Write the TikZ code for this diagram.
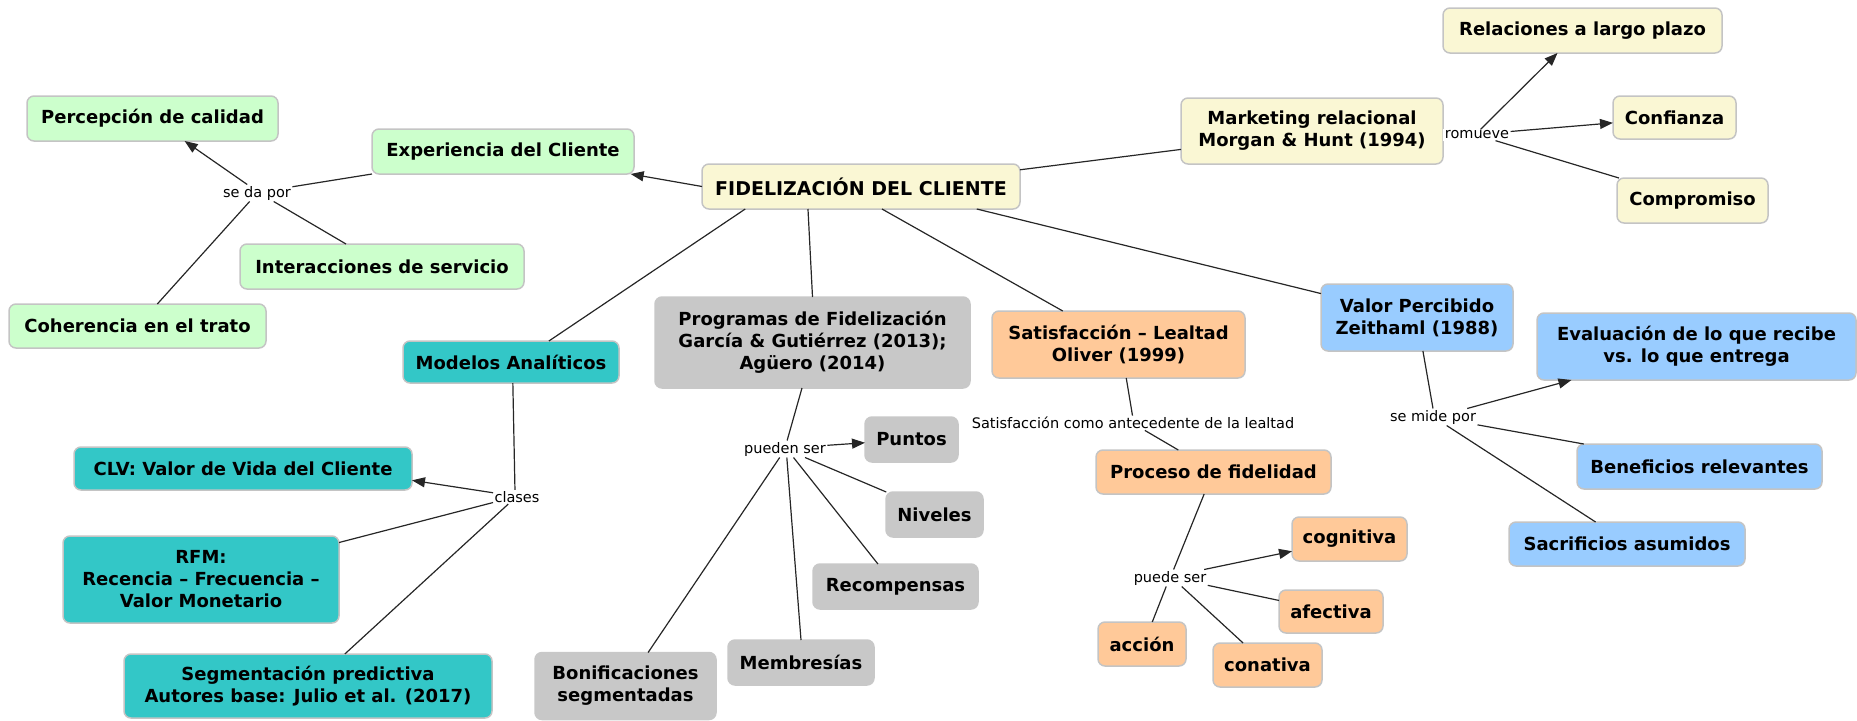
\documentclass[tikz,border=0pt]{standalone}
\usepackage{fontspec}
\setmainfont{DejaVu Sans}
\usetikzlibrary{arrows.meta}
\definecolor{cgreen}{RGB}{204,255,204}
\definecolor{cyellow}{RGB}{250,247,212}
\definecolor{cteal}{RGB}{51,199,199}
\definecolor{cgray}{RGB}{200,200,200}
\definecolor{corange}{RGB}{255,201,153}
\definecolor{cblue}{RGB}{153,204,255}
\definecolor{cborder}{RGB}{196,196,196}
\tikzset{
  box/.style={draw=cborder, line width=1.5pt, rounded corners=7pt, align=center,
    inner sep=2pt, outer sep=0pt, font=\fontsize{18}{22}\selectfont\bfseries},
  sz/.style 2 args={minimum width=#1pt, minimum height=#2pt},
  lab/.style={inner sep=1.5pt, outer sep=0pt, fill=white, font=\fontsize{14.5}{16}\selectfont},
  conn/.style={line width=1.2pt, draw=black!85},
  arr/.style={conn, -{Triangle[length=13pt,width=10pt]}},
}
\begin{document}
\begin{tikzpicture}[x=1pt,y=-1pt]
\path[use as bounding box] (0,0) rectangle (1857,720);
% nodes
\node[box, fill=cyellow, sz={318}{45}, font=\fontsize{19}{22}\selectfont\bfseries] (fid) at (861,186.5) {FIDELIZACIÓN DEL CLIENTE};
\node[box, fill=cgreen, sz={262}{45}] (exp) at (503,151.5) {Experiencia del Cliente};
\node[box, fill=cgreen, sz={251}{45}] (perc) at (152.5,118.5) {Percepción de calidad};
\node[box, fill=cgreen, sz={284}{45}] (inter) at (382,266.5) {Interacciones de servicio};
\node[box, fill=cgreen, sz={257}{44}] (coh) at (137.5,326) {Coherencia en el trato};
\node[box, fill=cyellow, sz={262}{66}] (mkt) at (1312,131) {Marketing relacional\\Morgan \& Hunt (1994)};
\node[box, fill=cyellow, sz={279}{45}] (rel) at (1582.5,30.5) {Relaciones a largo plazo};
\node[box, fill=cyellow, sz={123}{43}] (conf) at (1674.5,117.5) {Confianza};
\node[box, fill=cyellow, sz={151}{45}] (comp) at (1692.5,200.5) {Compromiso};
\node[box, fill=cteal, sz={216}{42}] (mod) at (511,362) {Modelos Analíticos};
\node[box, fill=cteal, sz={338}{43}] (clv) at (243,468.5) {CLV: Valor de Vida del Cliente};
\node[box, fill=cteal, sz={276}{87}] (rfm) at (201,579.5) {RFM:\\Recencia – Frecuencia –\\Valor Monetario};
\node[box, fill=cteal, sz={368}{64}] (seg) at (308,686) {Segmentación predictiva\\Autores base: Julio et al. (2017)};
\node[box, fill=cgray, draw=cgray, sz={315}{91}] (prog) at (812.5,342.5) {Programas de Fidelización\\García \& Gutiérrez (2013);\\Agüero (2014)};
\node[box, fill=cgray, draw=cgray, sz={93}{45}] (pun) at (911.5,439.5) {Puntos};
\node[box, fill=cgray, draw=cgray, sz={97}{45}] (niv) at (934.5,514.5) {Niveles};
\node[box, fill=cgray, draw=cgray, sz={165}{45}] (rec) at (895.5,586.5) {Recompensas};
\node[box, fill=cgray, draw=cgray, sz={146}{45}] (mem) at (801,662.5) {Membresías};
\node[box, fill=cgray, draw=cgray, sz={181}{67}] (bon) at (625.5,686) {Bonificaciones\\segmentadas};
\node[box, fill=corange, sz={253}{67}] (sat) at (1118.5,344.5) {Satisfacción – Lealtad\\Oliver (1999)};
\node[box, fill=corange, sz={235}{44}] (proc) at (1213.5,472) {Proceso de fidelidad};
\node[box, fill=corange, sz={115}{44}] (cog) at (1349.5,539) {cognitiva};
\node[box, fill=corange, sz={104}{43}] (afe) at (1331,611.5) {afectiva};
\node[box, fill=corange, sz={109}{44}] (con) at (1267.5,665) {conativa};
\node[box, fill=corange, sz={88}{44}] (acc) at (1142,644) {acción};
\node[box, fill=cblue, sz={192}{67}] (val) at (1417,317.5) {Valor Percibido\\Zeithaml (1988)};
\node[box, fill=cblue, sz={319}{67}] (eva) at (1696.5,346.5) {Evaluación de lo que recibe\\vs. lo que entrega};
\node[box, fill=cblue, sz={245}{45}] (ben) at (1699.5,466.5) {Beneficios relevantes};
\node[box, fill=cblue, sz={236}{44}] (sac) at (1627,544) {Sacrificios asumidos};
% linking phrases
\node[lab] (sedapor) at (257,193) {se da por};
\node[lab] (romueve) at (1477,135) {romueve};
\node[lab] (clases) at (517,497) {clases};
\node[lab] (pueden) at (785,449) {pueden ser};
\node[lab] (satlab) at (1133,423) {Satisfacción como antecedente de la lealtad};
\node[lab] (puede) at (1170,578) {puede ser};
\node[lab] (semide) at (1433,417) {se mide por};
% connectors
\draw[arr] (fid.west) -- (exp.-10);
\draw[conn] (fid.6.6) -- (mkt.188.3);
\draw[conn] (fid.191) -- (mod.29.6);
\draw[conn] (fid.203.4) -- (prog.north);
\draw[conn] (fid.-47) -- (sat.149.2);
\draw[conn] (fid.-11.4) -- (val.166);
\draw[conn] (exp.south west) -- (sedapor.10.4);
\draw[arr] (sedapor.139.4) -- (perc.-35.4);
\draw[conn] (sedapor.-27.9) -- (inter.148.9);
\draw[conn] (sedapor.-131.6) -- (coh.48.3);
\draw[arr] (romueve.58.4) -- (rel.-138.6);
\draw[arr] (romueve.6.9) -- (conf.185.1);
\draw[conn] (romueve.-17.8) -- (comp.163.4);
\draw[conn] (mod.-85) -- (clases.106);
\draw[arr] (clases.170.5) -- (clv.-4.9);
\draw[conn] (clases.193.5) -- (rfm.15.1);
\draw[conn] (clases.219.8) -- (seg.41.7);
\draw[conn] (prog.-103) -- (pueden.76);
\draw[arr] (pueden.5.3) -- (pun.184.3);
\draw[conn] (pueden.-23.5) -- (niv.155.6);
\draw[conn] (pueden.-45) -- (rec.128.2);
\draw[conn] (pueden.-78.7) -- (mem.north);
\draw[conn] (pueden.-122.5) -- (bon.56.1);
\draw[conn] (sat.-77.7) -- (satlab.94.8);
\draw[conn] (satlab.-32) -- (proc.148.1);
\draw[conn] (proc.-113.6) -- (puede.67.4);
\draw[arr] (puede.14.4) -- (cog.192.5);
\draw[conn] (puede.-11.6) -- (afe.168.8);
\draw[conn] (puede.-36.9) -- (con.138);
\draw[conn] (puede.-114) -- (acc.65.4);
\draw[conn] (val.-80.4) -- (semide.north);
\draw[arr] (semide.14.7) -- (eva.195.7);
\draw[conn] (semide.-10.8) -- (ben.169.2);
\draw[conn] (semide.-32) -- (sac.145.6);
\end{tikzpicture}
\end{document}
